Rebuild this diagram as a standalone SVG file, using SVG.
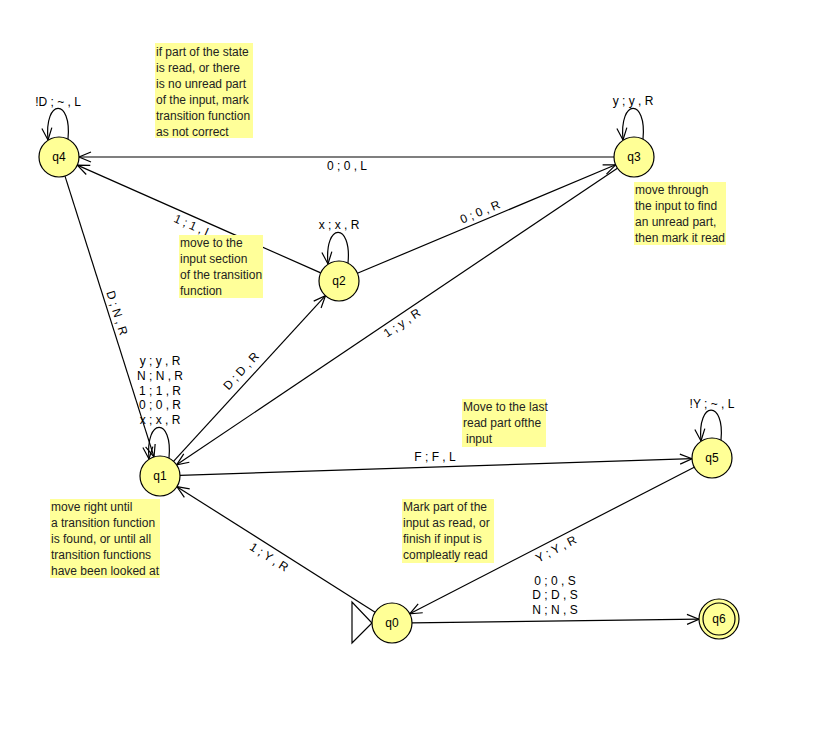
<svg xmlns="http://www.w3.org/2000/svg" width="814" height="743" viewBox="0 0 814 743">
<style>
.st{fill:#ffff96;stroke:#000;stroke-width:1.2}
.nl{font-family:"Liberation Sans",Arial,sans-serif;font-size:12px;fill:#000;text-anchor:middle}
.el{font-family:"Liberation Sans",Arial,sans-serif;font-size:12px;fill:#000;text-anchor:middle}
.ed{fill:none;stroke:#000;stroke-width:1.2;marker-end:url(#ah)}
.nb{fill:#ffff99}
.nt{font-family:"Liberation Sans",Arial,sans-serif;font-size:12px;fill:#222}
</style>
<defs>
<marker id="ah" viewBox="-14 -7 16 14" markerWidth="16" markerHeight="14" refX="0" refY="0" orient="auto" markerUnits="userSpaceOnUse">
<path d="M-12,-5 L0,0 L-12,5" fill="none" stroke="#000" stroke-width="1.2"/>
</marker>
</defs>
<rect width="814" height="743" fill="#fff"/>
<g id="connectors">
<line class="ed" x1="614" y1="157" x2="79" y2="157"/>
<line class="ed" x1="320.7" y1="272.9" x2="77.3" y2="165.1"/>
<line class="ed" x1="357.4" y1="273.3" x2="615.6" y2="164.8"/>
<line class="ed" x1="617.4" y1="168.2" x2="176.6" y2="464.8"/>
<line class="ed" x1="65" y1="176.1" x2="154" y2="456.9"/>
<line class="ed" x1="173.5" y1="461.3" x2="325.5" y2="295.7"/>
<line class="ed" x1="180" y1="475.3" x2="692" y2="458.7"/>
<line class="ed" x1="694.2" y1="467.2" x2="409.8" y2="613.8"/>
<line class="ed" x1="412" y1="622.8" x2="699" y2="619.2"/>
<line class="ed" x1="375.1" y1="612.3" x2="176.9" y2="486.7"/>
<path class="ed" d="M68,139 C72,98 44,98 48,140"/>
<path class="ed" d="M643,139 C647,98 619,98 623,140"/>
<path class="ed" d="M348,263 C352,222 324,222 328,264"/>
<path class="ed" d="M169,458 C173,417 145,417 149,459"/>
<path class="ed" d="M721,440 C725,400 697,400 701,441"/>
<g id="edge-labels">
<text class="el" x="347" y="170">0 ; 0 , L</text>
<text class="el" transform="translate(193,226) rotate(23.9)" y="4">1 ; 1 , L</text>
<text class="el" transform="translate(480,212) rotate(-22.8)" y="4">0 ; 0 , R</text>
<text class="el" transform="translate(402,323) rotate(-33.9)" y="4">1 ; y , R</text>
<text class="el" transform="translate(117,313) rotate(72.4)" y="4">D ; N , R</text>
<text class="el" transform="translate(241,371) rotate(-47.4)" y="4">D ; D , R</text>
<text class="el" transform="translate(556,549) rotate(-27.3)" y="4">Y ; Y , R</text>
<text class="el" transform="translate(269,557) rotate(32.4)" y="4">1 ; Y , R</text>
<text class="el" x="435" y="461">F ; F , L</text>
<text class="el" x="58" y="106">!D ; ~ , L</text>
<text class="el" x="633" y="105">y ; y , R</text>
<text class="el" x="339" y="229">x ; x , R</text>
<text class="el" x="712" y="408">!Y ; ~ , L</text>
<text class="el" x="160" y="365">y ; y , R</text>
<text class="el" x="160" y="380">N ; N , R</text>
<text class="el" x="160" y="395">1 ; 1 , R</text>
<text class="el" x="160" y="409">0 ; 0 , R</text>
<text class="el" x="160" y="424">x ; x , R</text>
<text class="el" x="555" y="585">0 ; 0 , S</text>
<text class="el" x="555" y="599">D ; D , S</text>
<text class="el" x="555" y="614">N ; N , S</text>
</g>
</g>
<g id="q4"><circle class="st" cx="59" cy="157" r="20"/><text class="nl" x="59" y="161">q4</text></g>
<g id="q3"><circle class="st" cx="634" cy="157" r="20"/><text class="nl" x="634" y="161">q3</text></g>
<g id="q2"><circle class="st" cx="339" cy="281" r="20"/><text class="nl" x="339" y="285">q2</text></g>
<g id="q1"><circle class="st" cx="160" cy="476" r="20"/><text class="nl" x="160" y="480">q1</text></g>
<g id="q5"><circle class="st" cx="712" cy="458" r="20"/><text class="nl" x="712" y="462">q5</text></g>
<g id="q0"><polygon points="352,602 352,643 372,623" fill="#fff" stroke="#000" stroke-width="1.2"/><circle class="st" cx="392" cy="623" r="20"/><text class="nl" x="392" y="627">q0</text></g>
<g id="q6"><circle class="st" cx="719" cy="619" r="20"/><circle fill="none" stroke="#000" stroke-width="1.2" cx="719" cy="619" r="16"/><text class="nl" x="719" y="623">q6</text></g>
<g id="note1"><rect class="nb" x="155" y="43" width="98" height="95"/>
<text class="nt" x="156" y="56">if part of the state</text>
<text class="nt" x="156" y="72">is read, or there</text>
<text class="nt" x="156" y="88">is no unread part</text>
<text class="nt" x="156" y="104">of the input, mark</text>
<text class="nt" x="156" y="120">transition function</text>
<text class="nt" x="156" y="136">as not correct</text></g>
<g id="note2"><rect class="nb" x="179" y="235" width="84" height="63"/>
<text class="nt" x="180" y="247">move to the</text>
<text class="nt" x="180" y="263">input section</text>
<text class="nt" x="180" y="279">of the transition</text>
<text class="nt" x="180" y="295">function</text></g>
<g id="note3"><rect class="nb" x="634" y="182" width="92" height="63"/>
<text class="nt" x="635" y="194">move through</text>
<text class="nt" x="635" y="210">the input to find</text>
<text class="nt" x="635" y="226">an unread part,</text>
<text class="nt" x="635" y="242">then mark it read</text></g>
<g id="note4"><rect class="nb" x="462" y="399" width="84" height="48"/>
<text class="nt" x="463" y="411">Move to the last</text>
<text class="nt" x="463" y="427">read part ofthe</text>
<text class="nt" x="466" y="443">input</text></g>
<g id="note5"><rect class="nb" x="402" y="499" width="92" height="64"/>
<text class="nt" x="403" y="511">Mark part of the</text>
<text class="nt" x="403" y="527">input as read, or</text>
<text class="nt" x="403" y="543">finish if input is</text>
<text class="nt" x="403" y="559">compleatly read</text></g>
<g id="note6"><rect class="nb" x="50" y="499" width="110" height="79"/>
<text class="nt" x="51" y="511">move right until</text>
<text class="nt" x="51" y="527">a transition function</text>
<text class="nt" x="51" y="543">is found, or until all</text>
<text class="nt" x="51" y="559">transition functions</text>
<text class="nt" x="51" y="575">have been looked at</text></g>
</svg>
